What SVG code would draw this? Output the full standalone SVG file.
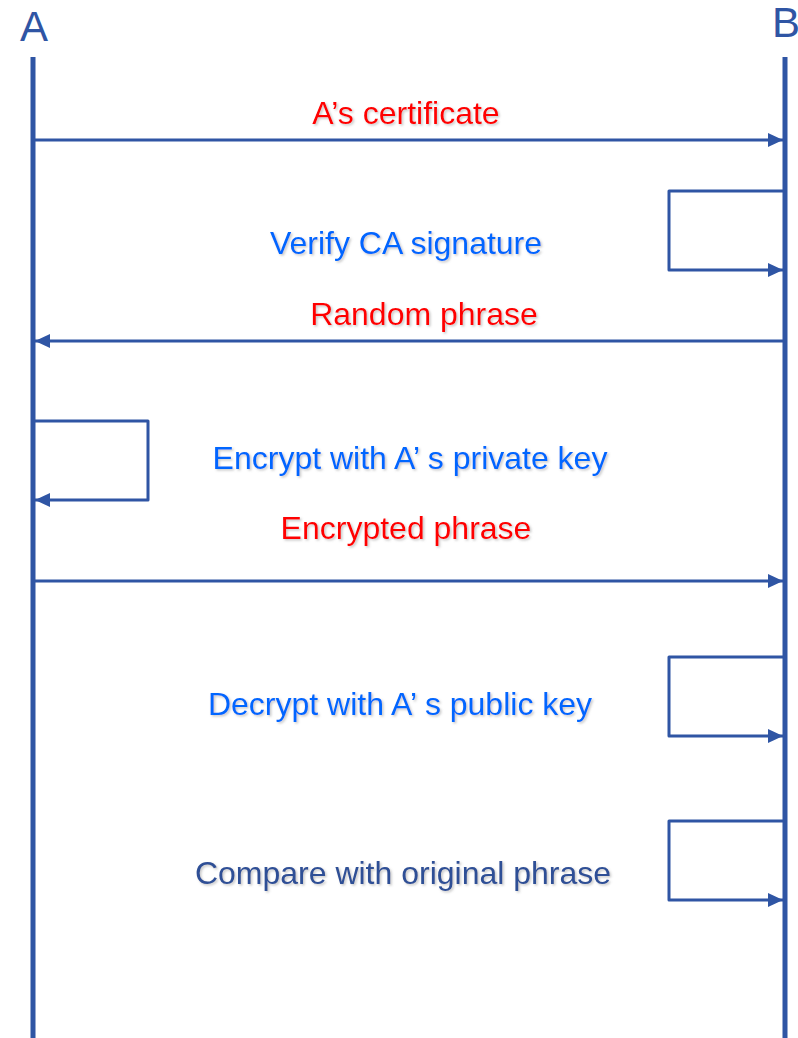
<svg xmlns="http://www.w3.org/2000/svg" width="798" height="1038" viewBox="0 0 798 1038">
  <style>
    .life { stroke: #2F55A4; stroke-width: 5; fill: none; }
    .conn { stroke: #2F55A4; stroke-width: 3; fill: none; stroke-linejoin: round; }
    .hdr { font-family: "Liberation Sans", Arial, sans-serif; font-size: 42px; fill: #2F55A4; }
    .lbl { font-family: "Liberation Sans", Arial, sans-serif; font-size: 32px; text-anchor: middle; filter: url(#shadow); }
    .msg { fill: #FF0000; }
    .act { fill: #0066FF; }
    .cmp { fill: #2E4F96; }
  </style>
  <defs>
    <marker id="arrow" markerWidth="16" markerHeight="16" refX="15" refY="8" orient="auto" markerUnits="userSpaceOnUse">
      <path d="M0,1 L15,8 L0,15 Z" fill="#2F55A4"/>
    </marker>
    <filter id="shadow" x="-5%" y="-20%" width="110%" height="140%">
      <feDropShadow dx="1.5" dy="1.5" stdDeviation="0.8" flood-color="#808080" flood-opacity="0.45"/>
    </filter>
  </defs>
  <rect width="798" height="1038" fill="#FFFFFF"/>

  <g id="lifeline-A">
    <text class="hdr" x="34" y="41" text-anchor="middle">A</text>
    <line class="life" x1="33" y1="57" x2="33" y2="1038"/>
  </g>
  <g id="lifeline-B">
    <text class="hdr" x="772" y="37">B</text>
    <line class="life" x1="785" y1="57" x2="785" y2="1038"/>
  </g>

  <g id="connectors">
    <line class="conn" x1="35" y1="140" x2="783" y2="140" marker-end="url(#arrow)"/>
    <polyline class="conn" points="783,191 669,191 669,270 783,270" marker-end="url(#arrow)"/>
    <line class="conn" x1="783" y1="341" x2="35" y2="341" marker-end="url(#arrow)"/>
    <polyline class="conn" points="35,421 148,421 148,500 35,500" marker-end="url(#arrow)"/>
    <line class="conn" x1="35" y1="581" x2="783" y2="581" marker-end="url(#arrow)"/>
    <polyline class="conn" points="783,657 669,657 669,736 783,736" marker-end="url(#arrow)"/>
    <polyline class="conn" points="783,821 669,821 669,900 783,900" marker-end="url(#arrow)"/>
  </g>

  <g id="label-certificate"><text class="lbl msg" x="406" y="124">A’s certificate</text></g>
  <g id="label-verify"><text class="lbl act" x="406" y="254">Verify CA signature</text></g>
  <g id="label-random"><text class="lbl msg" x="424" y="325">Random phrase</text></g>
  <g id="label-encrypt"><text class="lbl act" x="410" y="469">Encrypt with A’ s private key</text></g>
  <g id="label-encrypted"><text class="lbl msg" x="406" y="539">Encrypted phrase</text></g>
  <g id="label-decrypt"><text class="lbl act" x="400" y="715">Decrypt with A’ s public key</text></g>
  <g id="label-compare"><text class="lbl cmp" x="403" y="884">Compare with original phrase</text></g>
</svg>
